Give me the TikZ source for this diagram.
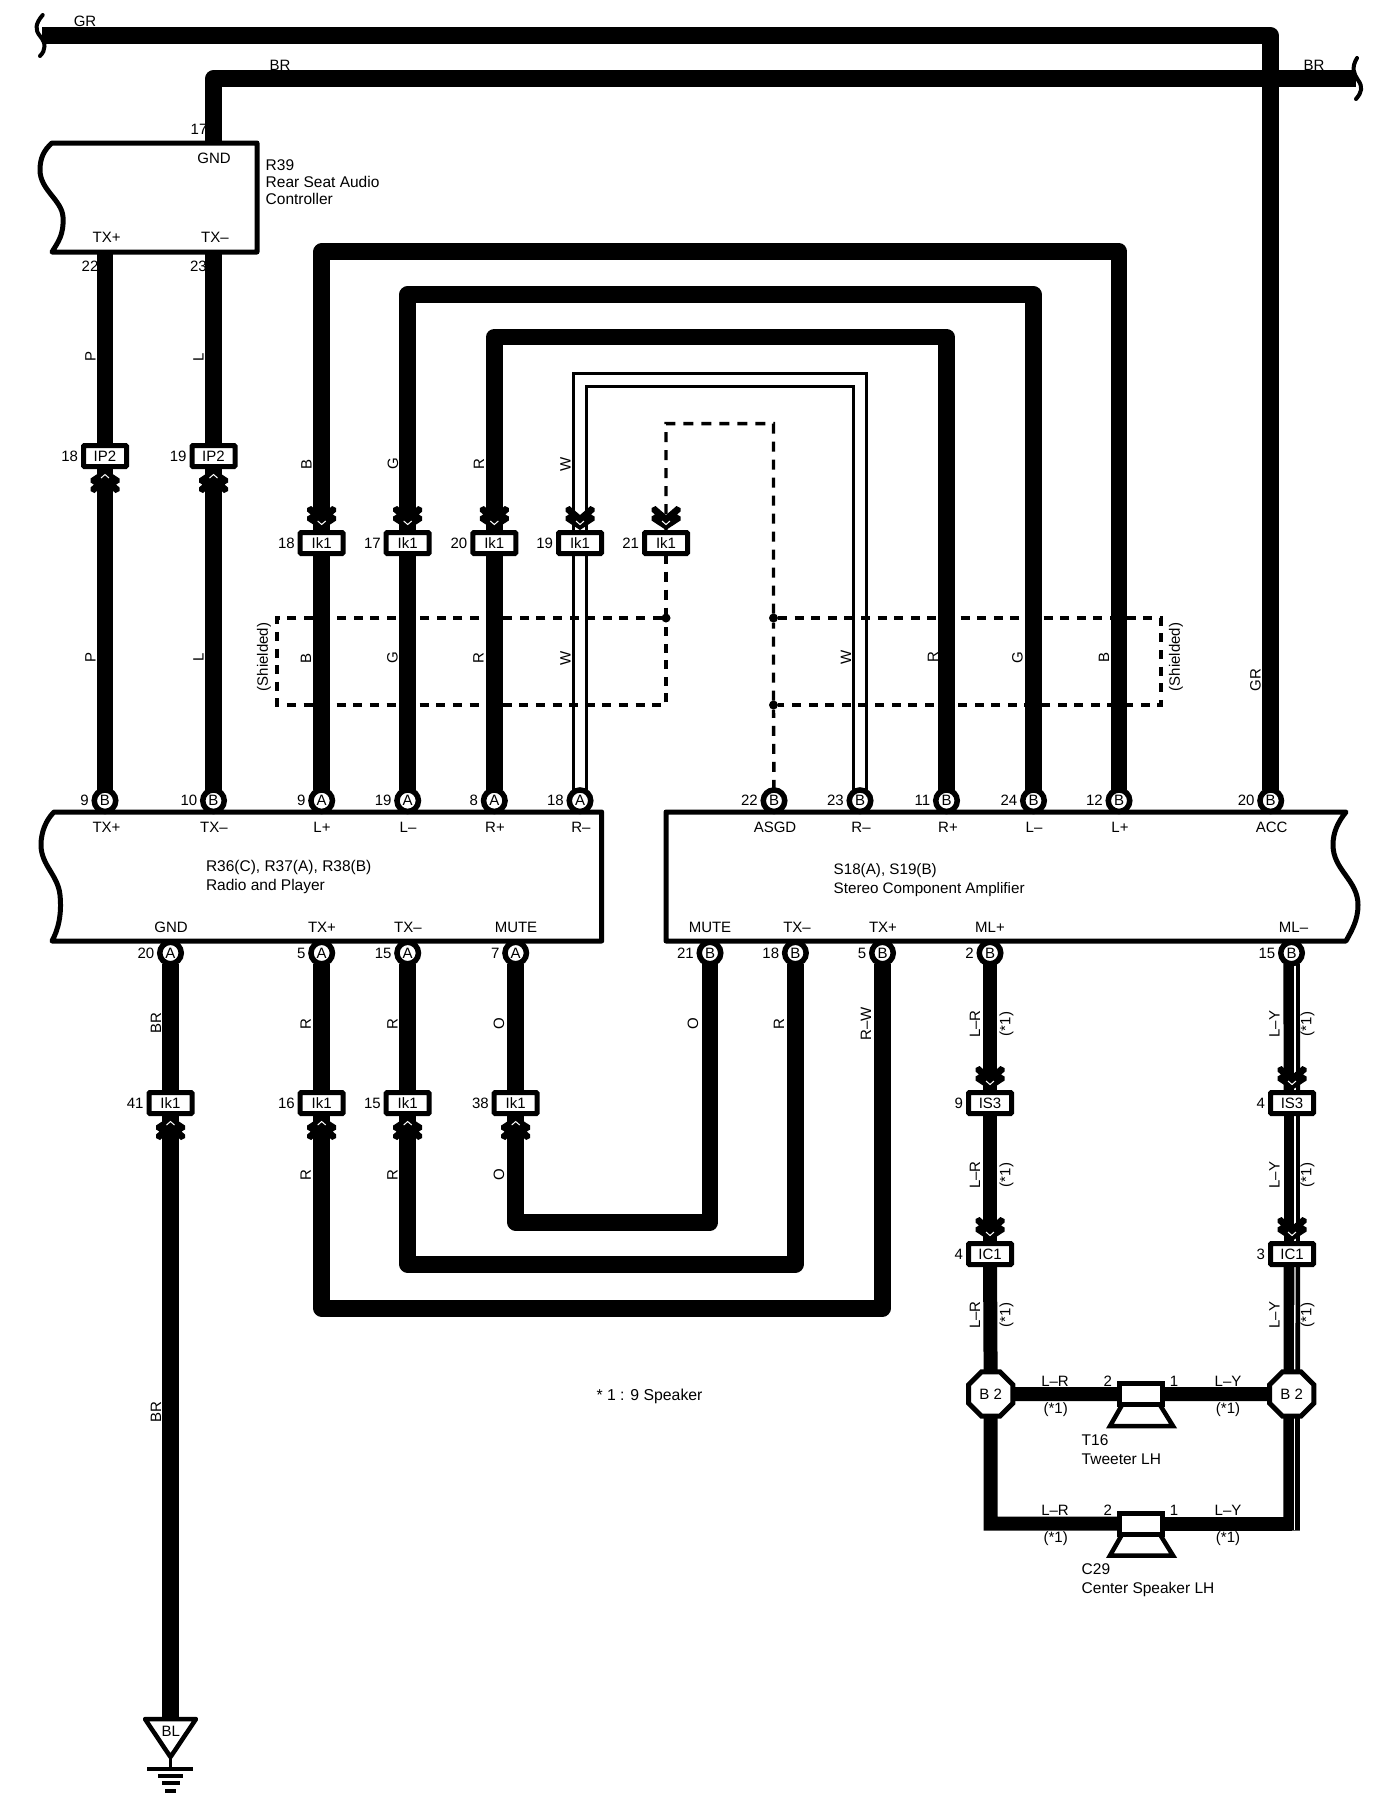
\documentclass[tikz,border=0pt]{standalone}
\usepackage{fontspec}
\setmainfont{Liberation Sans}
\usetikzlibrary{shapes.geometric,calc}
\pgfdeclarelayer{background}
\pgfsetlayers{background,main}
\newcount\txtcnt
\tikzset{
  every node/.style={font=\fontsize{15}{17}\selectfont,inner sep=0pt,outer sep=0pt,text=black},
  wire/.style={line width=16.5pt,line join=round,draw=black},
  wirethin/.style={line width=14pt,line join=miter,draw=black},
  wireout/.style={line width=15.5pt,draw=black,line join=miter},
  wirein/.style={line width=9.8pt,draw=white,line join=miter},
  stripe/.style={line width=1.3pt,draw=white},
  dashwire/.style={line width=3.4pt,draw=black,dash pattern=on 10pt off 8pt},
  shieldline/.style={line width=3.4pt,draw=black,dash pattern=on 9pt off 7.6pt},
  outline/.style={line width=5pt,draw=black,fill=white,line join=round},
  wave/.style={line width=4pt,draw=black,line cap=round},
  pinnode/.style={circle,draw=black,fill=white,line width=5.5pt,minimum size=21.5pt},
  connbox/.style={rectangle,draw=black,fill=white,line width=5pt,minimum width=43pt,minimum height=21pt,rounded corners=1pt},
  octa/.style={regular polygon,regular polygon sides=8,draw=black,fill=white,line width=5pt,minimum size=48pt},
  spk/.style={rectangle,draw=black,fill=white,line width=5pt,minimum width=43.5pt,minimum height=21pt},
  horn/.style={line width=4.5pt,draw=black,line join=miter},
  num/.style={font=\fontsize{15}{17}\selectfont,inner sep=0pt,outer sep=0pt},
  compname/.style={anchor=north west,align=left,font=\fontsize{15.5}{19}\selectfont},
  dotnode/.style={circle,fill=black,minimum size=9pt},
  dblchev/.pic={
    \fill[black] (0,0)--(14.5,-9.5)--(14.5,-13.5)--(11,-15.5)--(14.5,-18.5)--(14.5,-22)--(10.5,-24)--(0,-15)
      --(-10.5,-24)--(-14.5,-22)--(-14.5,-18.5)--(-11,-15.5)--(-14.5,-13.5)--(-14.5,-9.5)--cycle;
    \draw[white,line width=1pt] (-4,-9)--(0,-5.5)--(4,-9);
  }
}
\newcommand\Xpin[5]{\node[pinnode,label={[num,label distance=5.5pt]180:#5}] (#1) at (#2,#3) {#4};}
\newcommand\Xconn[5]{\node[connbox,label={[num,label distance=5.5pt]180:#5}] (#1) at (#2,#3) {#4};}
\newcommand\Xtxt[3]{\global\advance\txtcnt by 1 \node (t\the\txtcnt) at (#1,#2) {#3};}
\newcommand\Xwl[3]{\global\advance\txtcnt by 1 \node[rotate=90] (t\the\txtcnt) at (#1,#2) {#3};}
\newcommand\Xdown[1]{\path ([yshift=2.5pt]#1.north) pic {dblchev};}
\newcommand\Xup[1]{\path ([yshift=-2.5pt]#1.south) pic[yscale=-1] {dblchev};}
\begin{document}
\begin{tikzpicture}[x=1pt,y=-1pt]
\useasboundingbox (0,0) rectangle (1392,1816);

% component boxes
\draw[outline] (52,143) -- (257,143) -- (257,252) -- (52,252)
  .. controls (58,242) and (64,235) .. (63,217)
  .. controls (62,200) and (40,190) .. (40,170)
  .. controls (40,158) and (44,150) .. (52,143) -- cycle;
\draw[outline] (54,812) -- (601.7,812) -- (601.7,941) -- (52,941)
  .. controls (58,930) and (62,915) .. (60,895)
  .. controls (58,875) and (41,865) .. (41,845)
  .. controls (41,832) and (46,820) .. (54,812) -- cycle;
\draw[outline] (666,812) -- (1346,812)
  .. controls (1338,822) and (1333,832) .. (1333,845)
  .. controls (1333,870) and (1358,880) .. (1358,905)
  .. controls (1358,920) and (1352,930) .. (1346,941)
  -- (666,941) -- cycle;

% free ends
\coordinate (r39g) at (213.5,143);
\coordinate (r39a) at (105,252);
\coordinate (r39b) at (213.5,252);
\coordinate (grEnd) at (42,35.5);
\coordinate (brEnd) at (1356,78.5);
\coordinate (gndTop) at (170.5,1719);

% pins, upper row
\Xpin{pB9}{105}{800.7}{B}{9}
\Xpin{pB10}{213.5}{800.7}{B}{10}
\Xpin{pA9}{321.7}{800.7}{A}{9}
\Xpin{pA19}{407.7}{800.7}{A}{19}
\Xpin{pA8}{494.3}{800.7}{A}{8}
\Xpin{pA18}{580}{800.7}{A}{18}
\Xpin{pB22}{774}{800.7}{B}{22}
\Xpin{pB23}{860}{800.7}{B}{23}
\Xpin{pB11}{946.5}{800.7}{B}{11}
\Xpin{pB24}{1033.5}{800.7}{B}{24}
\Xpin{pB12}{1119}{800.7}{B}{12}
\Xpin{pB20}{1270.7}{800.7}{B}{20}
% pins, lower row
\Xpin{pA20}{170.5}{953}{A}{20}
\Xpin{pA5}{321.7}{953}{A}{5}
\Xpin{pA15}{407.7}{953}{A}{15}
\Xpin{pA7}{515.7}{953}{A}{7}
\Xpin{pB21}{710}{953}{B}{21}
\Xpin{pB18}{795.4}{953}{B}{18}
\Xpin{pB5}{882.5}{953}{B}{5}
\Xpin{pB2}{990}{953}{B}{2}
\Xpin{pB15}{1291.5}{953}{B}{15}

% connectors
\Xconn{cIPa}{105}{456}{IP2}{18}
\Xconn{cIPb}{213.5}{456}{IP2}{19}
\Xconn{cKa}{321.7}{543}{Ik1}{18}
\Xconn{cKb}{407.7}{543}{Ik1}{17}
\Xconn{cKc}{494.3}{543}{Ik1}{20}
\Xconn{cKd}{580}{543}{Ik1}{19}
\Xconn{cKe}{666}{543}{Ik1}{21}
\Xconn{cKf}{170.5}{1103}{Ik1}{41}
\Xconn{cKg}{321.7}{1103}{Ik1}{16}
\Xconn{cKh}{407.7}{1103}{Ik1}{15}
\Xconn{cKi}{515.7}{1103}{Ik1}{38}
\Xconn{cSa}{990}{1103}{IS3}{9}
\Xconn{cSb}{1292}{1103}{IS3}{4}
\Xconn{cCa}{990}{1254}{IC1}{4}
\Xconn{cCb}{1292}{1254}{IC1}{3}

% splices and speakers
\node[octa] (oL) at (990.7,1394) {B 2};
\node[octa] (oR) at (1291.7,1394) {B 2};
\node[spk] (spkA) at (1141,1394) {};
\node[spk] (spkB) at (1141,1523.5) {};
\draw[horn,shift={(spkA.center)}] (-19,11) -- (-31,32) -- (32,32) -- (19,11);
\draw[horn,shift={(spkB.center)}] (-19,11) -- (-31,32) -- (32,32) -- (19,11);

% shield junctions
\node[dotnode] (dL) at (666,618) {};
\node[dotnode] (dR) at (773.5,618) {};
\node[dotnode] (dS) at (773.5,705) {};

\begin{pgfonlayer}{background}
  \fill[white] (0,0) rectangle (1392,1816);
  % numbers partly hidden by their wires
  \node[anchor=east] (n17) at (207.4,129) {17};
  \node[anchor=east] (n22) at (98.4,266.5) {22};
  \node[anchor=east] (n23) at (206.7,266.5) {23};

  % supply wires
  \draw[wire] (grEnd) -- (pB20 |- grEnd) -- (pB20);
  \draw[wire] (r39g) -- (r39g |- brEnd) -- (brEnd);
  \draw[wave] (42.7,15) .. controls (35,24) and (35,30) .. (40,36) .. controls (46,43) and (46,50) .. (40,56);
  \draw[wave] (1357,58) .. controls (1351,68) and (1354,74) .. (1358,80) .. controls (1363,87) and (1362,92) .. (1356,99);

  % TX lines to rear controller
  \draw[wire] (r39a) -- (cIPa);
  \draw[wire] (cIPa) -- (pB9);
  \draw[wire] (r39b) -- (cIPb);
  \draw[wire] (cIPb) -- (pB10);

  % audio loops
  \draw[wire] (pA9) -- (cKa);
  \draw[wire] (cKa) -- (cKa |- 0,251.7) -- (pB12 |- 0,251.7) -- (pB12);
  \draw[wire] (pA19) -- (cKb);
  \draw[wire] (cKb) -- (cKb |- 0,294.5) -- (pB24 |- 0,294.5) -- (pB24);
  \draw[wire] (pA8) -- (cKc);
  \draw[wire] (cKc) -- (cKc |- 0,337) -- (pB11 |- 0,337) -- (pB11);

  % shielded pair
  \draw[wireout] (pA18) -- (cKd);
  \draw[wirein] (pA18) -- (cKd);
  \draw[wireout] (cKd) -- (cKd |- 0,380) -- (pB23 |- 0,380) -- (pB23);
  \draw[wirein] (cKd) -- (cKd |- 0,380) -- (pB23 |- 0,380) -- (pB23);

  % shield
  \draw[dashwire] (pB22) -- (dS) -- (dR) -- (dR |- 0,423.6) -- (cKe |- 0,423.6) -- (cKe);
  \draw[dashwire] (cKe) -- (dL);
  \draw[shieldline] (dL) -- (277,618) -- (277,705) -- (666,705) -- (dL);
  \draw[shieldline] (dR) -- (1161,618) -- (1161,705) -- (dS);

  % lower wires
  \draw[wire] (pA20) -- (cKf);
  \draw[wire] (cKf) -- (gndTop);
  \draw[wire] (pA5) -- (cKg);
  \draw[wire] (cKg) -- (cKg |- 0,1308.3) -- (pB5 |- 0,1308.3) -- (pB5);
  \draw[wire] (pA15) -- (cKh);
  \draw[wire] (cKh) -- (cKh |- 0,1264.3) -- (pB18 |- 0,1264.3) -- (pB18);
  \draw[wire] (pA7) -- (cKi);
  \draw[wire] (cKi) -- (cKi |- 0,1222.3) -- (pB21 |- 0,1222.3) -- (pB21);

  % speaker feeds
  \draw[wirethin] (pB2) -- (cSa);
  \draw[wirethin] (cSa) -- (cCa);
  \draw[wirethin] (cCa) -- (oL);
  \draw[wire] (pB15) -- (cSb);
  \draw[wire] (cSb) -- (cCb);
  \draw[wire] (cCb) -- (oR);
  \draw[wirethin] (oL) -- (spkA);
  \draw[wirethin] (spkA) -- (oR);
  \draw[wirethin] (oL) -- (oL |- spkB) -- (spkB);
  \draw[wirethin] (spkB) -- (oR |- spkB);
  \draw[wire,line join=miter] (oR) -- ($(oR |- spkB)+(0,7)$);
  \draw[stripe] ([xshift=3.5pt]pB15.south) -- ([xshift=3pt]cSb.north);
  \draw[stripe] ([xshift=3pt]cSb.south) -- ([xshift=3pt]cCb.north);
  \draw[stripe] ([xshift=3pt]cCb.south) -- ([xshift=3pt]oR.north);
  \draw[stripe] ([xshift=3pt]oR.south) -- ($(oR |- spkB)+(3,6)$);
\end{pgfonlayer}

% double arrowheads at connectors
\Xup{cIPa} \Xup{cIPb}
\Xdown{cKa} \Xdown{cKb} \Xdown{cKc} \Xdown{cKd} \Xdown{cKe}
\Xup{cKf} \Xup{cKg} \Xup{cKh} \Xup{cKi}
\Xdown{cSa} \Xdown{cSb} \Xdown{cCa} \Xdown{cCb}

% ground
\node (gndBL) at (170.7,1731.7) {BL};
\draw[line width=4.5pt,line join=round] (145,1719) -- (196,1719) -- (170.5,1757) -- cycle;
\draw[line width=3pt] (170.5,1757) -- (170.5,1768);
\draw[line width=4pt] (147,1768.5) -- (193,1768.5);
\draw[line width=4pt] (158,1776) -- (183,1776);
\draw[line width=4pt] (162,1783.3) -- (180,1783.3);
\draw[line width=4pt] (165,1790.7) -- (176,1790.7);

% wire colour labels
\Xtxt{85}{21.7}{GR}
\Xtxt{280}{65}{BR}
\Xtxt{1314}{65}{BR}
\Xwl{90.5}{356.5}{P} \Xwl{198.5}{357}{L}
\Xwl{90.5}{657.5}{P} \Xwl{198.5}{657}{L}
\Xwl{306.5}{464}{B} \Xwl{393}{464}{G} \Xwl{479}{464}{R} \Xwl{565.5}{464}{W}
\Xwl{306}{658}{B} \Xwl{392.5}{658}{G} \Xwl{478.5}{658}{R} \Xwl{565.5}{658}{W}
\Xwl{846}{657.5}{W} \Xwl{933}{657.5}{R} \Xwl{1017.5}{657.5}{G} \Xwl{1104}{657.5}{B}
\Xwl{1255.5}{680}{GR}
\Xwl{264}{657}{(Shielded)} \Xwl{1176}{657}{(Shielded)}
\Xwl{156}{1023}{BR} \Xwl{305.6}{1024}{R} \Xwl{392.4}{1024}{R} \Xwl{499}{1024}{O}
\Xwl{693}{1024}{O} \Xwl{779}{1024}{R} \Xwl{866}{1024}{R–W}
\Xwl{975}{1024}{L–R} \Xwl{1006.5}{1024}{(*1)} \Xwl{1274.4}{1024}{L–Y} \Xwl{1307.5}{1024}{(*1)}
\Xwl{305.6}{1175}{R} \Xwl{392.4}{1175}{R} \Xwl{499}{1175}{O}
\Xwl{975}{1175}{L–R} \Xwl{1006.5}{1175}{(*1)} \Xwl{1274.4}{1175}{L–Y} \Xwl{1307.5}{1175}{(*1)}
\Xwl{975}{1315}{L–R} \Xwl{1006.5}{1315}{(*1)} \Xwl{1274.4}{1315}{L–Y} \Xwl{1307.5}{1315}{(*1)}
\Xwl{156}{1412}{BR}

% terminal names
\Xtxt{214}{158}{GND} \Xtxt{106.7}{237}{TX+} \Xtxt{215}{237}{TX–}
\Xtxt{106.5}{827.7}{TX+} \Xtxt{214}{827.7}{TX–} \Xtxt{322}{827.7}{L+} \Xtxt{408}{827.7}{L–}
\Xtxt{495}{827.7}{R+} \Xtxt{581}{827.7}{R–}
\Xtxt{775}{827.7}{ASGD} \Xtxt{861}{827.7}{R–} \Xtxt{948}{827.7}{R+} \Xtxt{1034}{827.7}{L–}
\Xtxt{1120}{827.7}{L+} \Xtxt{1271.6}{827.7}{ACC}
\Xtxt{171}{927}{GND} \Xtxt{322}{927}{TX+} \Xtxt{408}{927}{TX–} \Xtxt{516}{927}{MUTE}
\Xtxt{710}{927}{MUTE} \Xtxt{797}{927}{TX–} \Xtxt{883}{927}{TX+} \Xtxt{990}{927}{ML+} \Xtxt{1293.5}{927}{ML–}

% component names
\node[compname,font=\fontsize{15.5}{17}\selectfont] (nR39) at (265.7,159.5) {R39\\Rear Seat Audio\\Controller};
\node[compname] (nR38) at (206,860) {R36(C), R37(A), R38(B)\\Radio and Player};
\node[compname,font=\fontsize{15.2}{19}\selectfont] (nS18) at (833.7,863.5) {S18(A), S19(B)\\Stereo Component Amplifier};
\node[compname] (nT16) at (1081.7,1435) {T16\\Tweeter LH};
\node[compname] (nC29) at (1081.7,1563.5) {C29\\Center Speaker LH};
\node[font=\fontsize{15.8}{17}\selectfont] (nNote) at (649.5,1396.5) {* 1 : 9 Speaker};

% speaker labels
\Xtxt{1055}{1381}{L–R} \Xtxt{1055.7}{1410}{(*1)} \Xtxt{1107.7}{1381}{2} \Xtxt{1174}{1381}{1} \Xtxt{1228}{1381}{L–Y} \Xtxt{1228}{1410}{(*1)}
\Xtxt{1055}{1510}{L–R} \Xtxt{1055.7}{1539}{(*1)} \Xtxt{1107.7}{1510}{2} \Xtxt{1174}{1510}{1} \Xtxt{1228}{1510}{L–Y} \Xtxt{1228}{1539}{(*1)}
\end{tikzpicture}
\end{document}
